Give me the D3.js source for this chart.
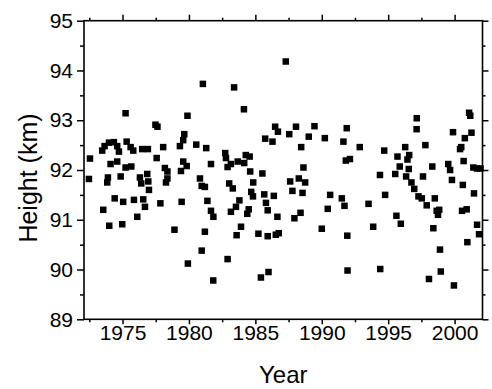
<!DOCTYPE html>
<html lang="en">
<head>
<meta charset="utf-8">
<title>Height vs Year</title>
<script src="https://d3js.org/d3.v7.min.js"></script>
<style>
  body { margin: 0; background: #fff; }
  text { font-family: "Liberation Sans", Arial, sans-serif; fill: #000; }
  .axis line { stroke: #000; stroke-width: 1.5; }
</style>
</head>
<body>
<div id="chart"></div>
<script>
var years = [1972.47,1972.55,1973.47,1973.55,1973.65,1973.85,1973.90,1973.98,1974.00,1974.10,
  1974.35,1974.41,1974.60,1974.60,1974.73,1974.86,1974.98,1975.05,1975.23,1975.23,
  1975.31,1975.61,1975.66,1975.81,1975.86,1976.11,1976.31,1976.41,1976.48,1976.56,
  1976.69,1976.86,1976.91,1976.94,1976.99,1977.48,1977.63,1977.57,1977.85,1978.06,
  1978.19,1978.38,1978.38,1978.27,1978.91,1979.32,1979.40,1979.45,1979.57,1979.65,
  1979.57,1979.83,1979.89,1979.92,1980.55,1980.83,1980.96,1981.20,1980.96,1981.05,
  1981.20,1981.30,1981.39,1981.66,1981.66,1981.84,1981.83,1982.73,1982.79,1982.91,
  1982.91,1983.03,1983.16,1983.16,1983.30,1983.40,1983.54,1983.59,1983.67,1983.80,
  1983.92,1984.14,1984.16,1984.28,1984.39,1984.50,1984.57,1984.61,1984.69,1984.82,
  1984.84,1985.23,1985.42,1985.53,1985.67,1985.74,1985.80,1985.93,1985.93,1985.99,
  1986.29,1986.39,1986.49,1986.54,1986.66,1986.70,1986.76,1987.29,1987.55,1987.62,
  1987.79,1987.94,1988.06,1988.27,1988.40,1988.45,1988.55,1988.62,1988.75,1989.02,
  1989.45,1990.00,1990.23,1990.45,1990.63,1991.51,1991.63,1991.71,1991.88,1991.81,
  1991.92,1991.94,1992.12,1992.86,1993.52,1993.87,1994.38,1994.40,1994.70,1994.77,
  1995.53,1995.62,1995.70,1995.87,1995.95,1996.28,1996.35,1996.45,1996.58,1996.55,
  1996.75,1996.96,1997.15,1997.14,1997.28,1997.53,1997.62,1997.80,1997.90,1998.07,
  1998.32,1998.40,1998.51,1998.65,1998.84,1998.75,1998.90,1998.96,1999.52,1999.66,
  1999.80,1999.88,1999.95,2000.41,2000.50,2000.62,2000.56,2000.77,2000.68,2000.91,
  2000.96,2001.09,2001.18,2001.27,2001.41,2001.46,2001.69,2001.69,2001.84,2001.95];
var heights = [91.82,92.23,92.39,91.20,92.48,91.75,91.85,92.55,90.88,92.12,
  92.56,91.43,92.48,92.17,92.37,91.87,90.91,91.36,93.14,92.05,
  92.57,92.46,92.07,92.39,91.40,91.06,91.85,91.73,92.42,91.41,
  91.26,91.92,92.42,91.77,91.60,92.91,92.87,92.24,91.33,92.46,
  92.04,91.97,91.83,91.75,90.80,92.48,91.98,91.36,92.60,92.72,
  92.17,92.08,93.09,90.12,92.51,91.83,91.68,91.66,90.38,93.73,
  90.76,92.44,91.38,92.12,91.18,91.06,89.78,92.34,92.24,92.06,
  90.21,91.73,92.12,91.16,91.63,93.66,91.26,90.69,92.17,91.39,
  90.86,93.22,92.14,92.30,91.12,91.21,92.27,91.97,91.56,91.47,
  91.75,90.72,89.84,91.93,91.51,92.63,91.34,91.19,90.67,89.95,
  92.57,91.48,92.87,90.70,91.06,92.77,90.73,94.18,92.72,91.77,
  91.58,91.03,92.87,91.83,91.14,92.46,91.54,92.05,91.75,92.67,
  92.88,90.82,92.64,91.22,91.50,91.43,92.57,91.28,92.84,92.19,
  90.68,89.98,92.22,92.46,91.32,90.86,91.90,90.01,92.39,91.50,
  91.92,91.08,92.27,92.07,90.92,92.46,91.87,92.21,92.30,92.02,
  91.75,91.62,93.04,92.82,91.47,91.43,91.87,92.50,91.29,89.81,
  92.07,90.83,91.43,91.18,91.20,91.10,90.40,89.96,92.12,92.00,
  91.80,92.76,89.68,92.42,92.46,91.70,91.18,92.64,92.18,91.21,
  90.55,93.15,93.09,92.75,92.05,91.53,92.03,90.90,90.71,92.03];

var xMajor = [1975, 1980, 1985, 1990, 1995, 2000];
var xMinor = [1972.5, 1977.5, 1982.5, 1987.5, 1992.5, 1997.5];
var yMajor = [89, 90, 91, 92, 93, 94, 95];
var yMinor = [89.5, 90.5, 91.5, 92.5, 93.5, 94.5];

var width = 492, height = 389;
var padL = 84, padR = 482.5, padT = 20.7, padB = 319.3;

var svg = d3.select("#chart").append("svg")
  .attr("width", width)
  .attr("height", height);

var xScale = d3.scaleLinear().domain([1972.1, 2002.1]).range([padL, padR]);
var yScale = d3.scaleLinear().domain([89, 95]).range([padB, padT]);

function addAxis(axisFn, scale, ticks, size, labels, transform, pad) {
  var a = axisFn(scale).tickValues(ticks).tickSizeInner(size).tickSizeOuter(0)
    .tickPadding(pad === undefined ? 4 : pad);
  a.tickFormat(labels ? d3.format("d") : "");
  var g = svg.append("g").attr("class", "axis").attr("transform", transform).call(a);
  g.select(".domain").remove();
  return g;
}

// bottom and left with labels
var gx = addAxis(d3.axisBottom, xScale, xMajor, 5, true, "translate(0," + padB + ")", 1);
gx.selectAll("text").style("font-size", "21px");
addAxis(d3.axisBottom, xScale, xMinor, 3, false, "translate(0," + padB + ")");
var gy = addAxis(d3.axisLeft, yScale, yMajor, 7, true, "translate(" + padL + ",0)");
gy.selectAll("text").style("font-size", "21px");
addAxis(d3.axisLeft, yScale, yMinor, 4, false, "translate(" + padL + ",0)");

// top and right: ticks only
addAxis(d3.axisTop, xScale, xMajor, 6, false, "translate(0," + padT + ")");
addAxis(d3.axisTop, xScale, xMinor, 3, false, "translate(0," + padT + ")");
addAxis(d3.axisRight, yScale, yMajor, 6, false, "translate(" + padR + ",0)");
addAxis(d3.axisRight, yScale, yMinor, 3, false, "translate(" + padR + ",0)");

// frame
svg.append("rect")
  .attr("x", padL).attr("y", padT)
  .attr("width", padR - padL).attr("height", padB - padT)
  .attr("fill", "none").attr("stroke", "#000").attr("stroke-width", 1.6);

// points
var sz = 6.5;
svg.append("g").selectAll("rect")
  .data(d3.range(years.length))
  .join("rect")
  .attr("x", function(i) { return xScale(years[i]) - sz / 2; })
  .attr("y", function(i) { return yScale(heights[i]) - sz / 2; })
  .attr("width", sz).attr("height", sz)
  .attr("fill", "#000");

// axis titles
svg.append("text")
  .attr("x", (padL + padR) / 2)
  .attr("y", 383)
  .attr("text-anchor", "middle")
  .style("font-size", "24px")
  .text("Year");

svg.append("text")
  .attr("transform", "translate(37," + 178 + ") rotate(-90)")
  .attr("text-anchor", "middle")
  .style("font-size", "25px")
  .text("Height (km)");
</script>
</body>
</html>
